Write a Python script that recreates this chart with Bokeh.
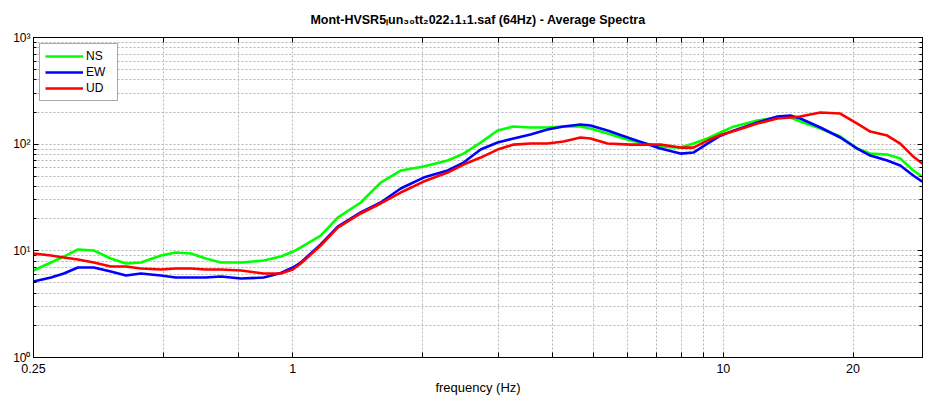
from bokeh.plotting import figure
from bokeh.models import FixedTicker, LogAxis, Range1d, CustomJSTickFormatter
from bokeh.embed import file_html
from bokeh.resources import INLINE

# ---- data ----
freq = [0.25, 0.2745, 0.294, 0.317, 0.345, 0.378, 0.410, 0.444, 0.494, 0.535,
        0.580, 0.628, 0.681, 0.758, 0.856, 0.938, 1.0, 1.044, 1.161, 1.272,
        1.438, 1.600, 1.781, 2.013, 2.289, 2.493, 2.731, 2.990, 3.257, 3.566,
        3.905, 4.254, 4.659, 4.914, 5.381, 6.085, 7.142, 7.947, 8.518, 9.182,
        9.841, 10.55, 11.99, 13.35, 14.30, 15.09, 16.80, 18.68, 20.46, 21.93,
        24.02, 25.75, 27.60, 28.95]

ns = [6.54, 7.77, 8.84, 10.3, 10.07, 8.47, 7.6, 7.77, 9.03, 9.64,
      9.43, 8.47, 7.77, 7.77, 8.11, 8.84, 9.8, 10.8, 13.9, 20.5,
      28.4, 43.6, 56.6, 61.7, 70.2, 81.6, 103.5, 134.2, 146.3, 143.2,
      143.2, 146.3, 146.3, 140.1, 125.8, 108.1, 94.9, 92.9, 101.3, 112.9,
      128.5, 146.0, 166.4, 177.6, 177.6, 162.9, 140.1, 117.9, 90.9, 81.6,
      79.9, 73.3, 56.6, 49.7]

ew = [5.16, 5.62, 6.13, 6.97, 6.97, 6.40, 5.87, 6.13, 5.87, 5.62,
      5.62, 5.62, 5.74, 5.50, 5.62, 6.2, 6.97, 7.77, 11.5, 16.9,
      22.9, 28.4, 38.4, 48.6, 56.6, 67.2, 89.0, 103.5, 112.9, 123.0,
      137.2, 146.3, 152.7, 149.4, 134.2, 112.9, 90.9, 81.6, 83.4, 101.3,
      120.0, 134.0, 159.3, 181.4, 185.3, 173.8, 143.2, 115.4, 90.9, 78.2,
      70.2, 63.0, 50.8, 44.6]

ud = [9.43, 9.03, 8.65, 8.29, 7.77, 7.12, 7.12, 6.82, 6.68, 6.82,
      6.82, 6.68, 6.68, 6.54, 6.13, 6.13, 6.68, 7.6, 11.2, 16.5,
      22.4, 27.8, 35.2, 44.6, 54.2, 64.4, 74.9, 89.0, 99.1, 101.3,
      101.3, 105.8, 115.4, 112.9, 101.3, 99.1, 99.1, 92.9, 92.9, 108.1,
      122.0, 132.0, 156.0, 173.8, 177.6, 181.4, 197.8, 193.6, 156.0, 131.4,
      120.5, 101.3, 76.5, 65.8]

x_ticks = [0.25, 0.5, 0.75, 1, 2, 3, 4, 5, 6, 7, 8, 9, 10, 20]
x_tick_labels = {0.25: "0.25", 1: "1", 10: "10", 20: "20"}
y_major = [1, 10, 100, 1000]
y_minor = [m * 10 ** k for k in range(3) for m in range(2, 10)]
y_tick_labels = {1: "10\u2070", 10: "10\u00b9", 100: "10\u00b2", 1000: "10\u00b3"}

title_text = ("Mont-HVSR5\u2097un\u2083\u2080tt\u2082022\u20811\u20811.saf (64Hz)"
              " - Average Spectra")

FONT = "Liberation Sans"
GRID = "#b4b4b4"

p = figure(width=926, height=399, x_axis_type="log", y_axis_type="log",
           x_range=Range1d(0.25, 29), y_range=Range1d(1, 1000),
           output_backend="svg", toolbar_location=None,
           min_border_left=33, min_border_right=4,
           min_border_top=37, min_border_bottom=42,
           background_fill_color="white", border_fill_color="white")

p.title.text = title_text
p.title.align = "center"
p.title.text_font = FONT
p.title.text_font_size = "12.5px"
p.title.text_font_style = "bold"
p.title.text_color = "black"
p.title.standoff = 21

p.outline_line_color = "black"

# bottom axis
xa = p.xaxis[0]
xa.ticker = FixedTicker(ticks=x_ticks)
xa.major_label_overrides = {t: x_tick_labels.get(t, "") for t in x_ticks}
xa.major_tick_in = 5
xa.major_tick_out = 0
xa.minor_tick_in = 0
xa.minor_tick_out = 0
xa.major_label_standoff = 6
xa.major_label_text_font = FONT
xa.major_label_text_font_size = "12.5px"
xa.major_label_text_color = "black"
xa.axis_label = "frequency (Hz)"
xa.axis_label_text_font = FONT
xa.axis_label_text_font_size = "13px"
xa.axis_label_text_font_style = "normal"
xa.axis_label_text_color = "black"
xa.axis_label_standoff = 4
xa.axis_line_color = "black"
xa.major_tick_line_color = "black"

# left axis
ya = p.yaxis[0]
ya.ticker = FixedTicker(ticks=y_major, minor_ticks=y_minor)
ya.major_label_overrides = dict(y_tick_labels)
ya.major_tick_in = 5
ya.major_tick_out = 0
ya.minor_tick_in = 3
ya.minor_tick_out = 0
ya.major_label_standoff = 3
ya.major_label_text_font = FONT
ya.major_label_text_font_size = "12px"
ya.major_label_text_color = "black"
ya.axis_line_color = "black"
ya.major_tick_line_color = "black"
ya.minor_tick_line_color = "black"

# right and top axes (ticks only)
blank = CustomJSTickFormatter(code="return ''")
ra = LogAxis(ticker=FixedTicker(ticks=y_major, minor_ticks=y_minor), formatter=blank,
             major_tick_in=5, major_tick_out=0, minor_tick_in=3, minor_tick_out=0,
             major_label_standoff=0, axis_line_color="black")
p.add_layout(ra, "right")
ta = LogAxis(ticker=FixedTicker(ticks=x_ticks), formatter=blank,
             major_tick_in=5, major_tick_out=0, minor_tick_in=0, minor_tick_out=0,
             major_label_standoff=0, axis_line_color="black",
             major_label_text_font_size="1px")
p.add_layout(ta, "above")

# grids
p.xgrid.ticker = FixedTicker(ticks=x_ticks)
p.xgrid.grid_line_color = GRID
p.xgrid.grid_line_dash = "2 2"
p.ygrid.ticker = FixedTicker(ticks=y_major, minor_ticks=y_minor)
p.ygrid.grid_line_color = GRID
p.ygrid.grid_line_dash = "2 2"
p.ygrid.minor_grid_line_color = GRID
p.ygrid.minor_grid_line_dash = "2 2"

# curves
p.line(freq, ns, line_color="#00ff00", line_width=2.6, legend_label="NS",
       line_join="round")
p.line(freq, ew, line_color="#0000ff", line_width=2.6, legend_label="EW",
       line_join="round")
p.line(freq, ud, line_color="#ff0000", line_width=2.6, legend_label="UD",
       line_join="round")

lg = p.legend[0]
lg.location = "top_left"
lg.margin = 6
lg.padding = 5
lg.spacing = 2
lg.glyph_width = 38
lg.glyph_height = 14
lg.label_height = 14
lg.label_width = 26
lg.label_standoff = 3
lg.label_text_font = FONT
lg.label_text_font_size = "12px"
lg.label_text_color = "black"
lg.border_line_color = "#555555"
lg.border_line_width = 1
lg.background_fill_color = "white"
lg.background_fill_alpha = 1.0

open("out.html", "w").write(file_html(p, INLINE))
